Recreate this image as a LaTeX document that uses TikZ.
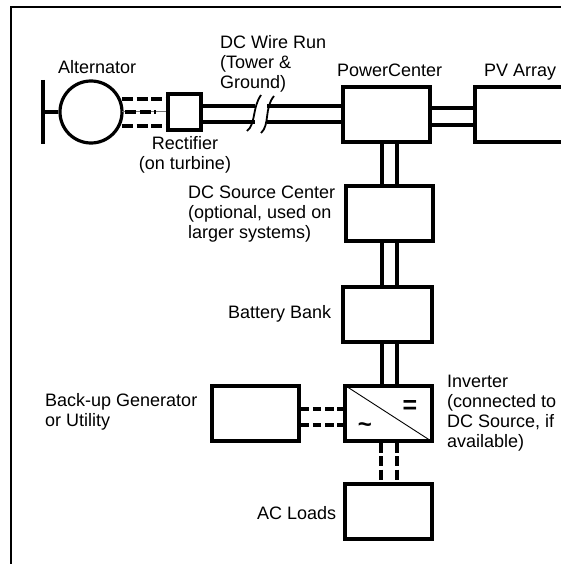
\documentclass[tikz,border=0pt]{standalone}
\usepackage{fontspec}
\setmainfont{Liberation Sans}
\begin{document}
\begin{tikzpicture}[x=1pt,y=-1pt,
  box/.style={draw,line width=3.2pt,fill=white,minimum width=0pt,inner sep=0pt},
  wire/.style={line width=3.2pt},
  dwire/.style={line width=3.2pt,dash pattern=on 11pt off 3.5pt},
  dgen/.style={line width=3.4pt,dash pattern=on 8.5pt off 3.7pt},
  dac/.style={line width=3.4pt,dash pattern=on 10pt off 3.5pt},
  lab/.style={font=\fontsize{18}{20}\selectfont,align=left,inner sep=0pt,anchor=north west}]
\useasboundingbox (0,0) rectangle (561,564);
\fill[white] (0,0) rectangle (561,564);
\coordinate (fbl) at (11,564);
\coordinate (ftl) at (11,7);
\coordinate (ftr) at (561,7);
\draw[line width=2.2pt] (fbl) -- (ftl) -- (ftr);
% alternator
\node[circle,draw,line width=3.2pt,minimum size=62pt,inner sep=0pt] (alt) at (91,112) {};
\coordinate (bart) at (43,80);
\coordinate (barb) at (43,144);
\coordinate (barm) at (43,112);
\draw[line width=3.4pt] (bart) -- (barb);
\draw[line width=3.4pt] (barm) -- (alt.west);
% rectifier feed (under the boxes)
\coordinate (a1) at (122,99);
\coordinate (a2) at (122,112);
\coordinate (a3) at (122,126);
\draw[line width=1pt,black!55] (a2) -- (167,112);
\draw[dwire] (a1) -- (167,99);
\draw[dwire] (125,112) -- (156,112);
\draw[dwire] (a3) -- (167,126);
% boxes
\node[box,minimum width=33pt,minimum height=36pt] (rect) at (184.5,112) {};
\node[box,minimum width=87pt,minimum height=55pt] (pc) at (386.5,114.5) {};
\coordinate (pvtl) at (475,87);
\coordinate (pvtr) at (561,87);
\coordinate (pvbl) at (475,142);
\coordinate (pvbr) at (561,142);
\draw[line width=3.2pt] (pvtr) -- (pvtl) -- (pvbl) -- (pvbr);
\node[box,minimum width=87pt,minimum height=55pt] (dcs) at (389.5,213.5) {};
\node[box,minimum width=89pt,minimum height=55pt] (bat) at (387.5,314.5) {};
\node[box,minimum width=87pt,minimum height=55pt] (inv) at (388.5,413.5) {};
\node[box,minimum width=87pt,minimum height=55pt] (gen) at (255.5,413.5) {};
\node[box,minimum width=87pt,minimum height=55pt] (ac) at (388.5,511.5) {};
% DC wire run
\draw[wire] (rect.east|-0,106) -- (pc.west|-0,106);
\draw[wire] (rect.east|-0,122) -- (pc.west|-0,122);
\fill[white] (255,100) -- (267,100) -- (267,128) -- (255,128) -- cycle;
\coordinate (b1s) at (247,131);
\coordinate (b1e) at (261,95);
\coordinate (b2s) at (261,133);
\coordinate (b2e) at (274,96);
\draw[line width=1.8pt] (b1s) .. controls (256,124) and (252,108) .. (b1e);
\draw[line width=1.8pt] (b2s) .. controls (270,125) and (264,108) .. (b2e);
% PV wires
\draw[wire] (pc.east|-0,108) -- (pvtl|-0,108);
\draw[wire] (pc.east|-0,125) -- (pvtl|-0,125);
% vertical
\draw[wire] (pc.south-|382,0) -- (dcs.north-|382,0);
\draw[wire] (pc.south-|397,0) -- (dcs.north-|397,0);
\draw[wire] (dcs.south-|382,0) -- (bat.north-|382,0);
\draw[wire] (dcs.south-|397,0) -- (bat.north-|397,0);
\draw[wire] (bat.south-|382,0) -- (inv.north-|382,0);
\draw[wire] (bat.south-|397,0) -- (inv.north-|397,0);
\draw[dac] (inv.south-|381,0) -- (ac.north-|381,0);
\draw[dac] (inv.south-|397,0) -- (ac.north-|397,0);
\draw[dgen] (gen.east|-0,409) -- (inv.west|-0,409);
\draw[dgen] (gen.east|-0,425) -- (inv.west|-0,425);
% inverter
\draw[line width=0.9pt] (inv.north west) -- (inv.south east);
\node[inner sep=0pt,font=\fontsize{25}{25}\selectfont\bfseries] (eq) at (410,407) {=};
\node[inner sep=0pt,font=\fontsize{24}{24}\selectfont\bfseries] (ti) at (365,428) {\char"007E};
% labels
\node[lab] (l1) at (58,60) {Alternator};
\node[lab] (l2) at (220,35) {DC Wire Run\\(Tower \&\\Ground)};
\node[lab] (l3) at (337,64) {PowerCenter};
\node[lab] (l4) at (484,64) {PV Array};
\node[lab,align=center,anchor=north] (l5) at (185,136) {Rectifier\\(on turbine)};
\node[lab] (l6) at (188,186) {DC Source Center\\(optional, used on\\larger systems)};
\node[lab] (l7) at (228,305) {Battery Bank};
\node[lab] (l8) at (45,393) {Back-up Generator\\or Utility};
\node[lab] (l9) at (447,375) {Inverter\\(connected to\\DC Source, if\\available)};
\node[lab] (l10) at (257,506) {AC Loads};
\end{tikzpicture}
\end{document}
